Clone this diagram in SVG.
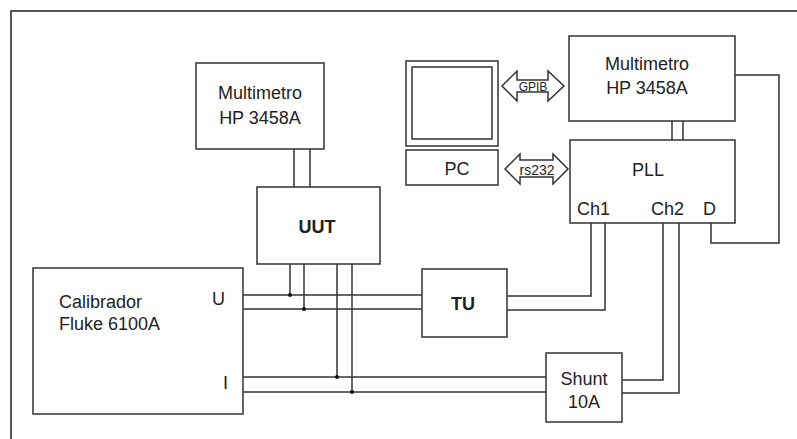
<svg xmlns="http://www.w3.org/2000/svg" width="797" height="439" viewBox="0 0 797 439">
<style>
.box{fill:#fff;stroke:#333;stroke-width:1.5}
.w{fill:none;stroke:#333;stroke-width:1.5}
.t{font-family:"Liberation Sans",Arial,sans-serif;font-size:18px;fill:#222}
.c{text-anchor:middle}
.b{font-weight:bold}
.dot{fill:#111}
</style>
<rect width="797" height="439" fill="#fff"/>
<g id="frame"><path d="M11 439 V11 H797" fill="none" stroke="#555" stroke-width="2"/></g>
<g id="connectors">
  <path class="w" d="M294 149 V187 M310 149 V187"/>
  <path class="w" d="M672 121 V140 M683 121 V140"/>
  <path class="w" d="M243 295 H422 M243 309 H422"/>
  <path class="w" d="M243 377 H546 M243 392 H546"/>
  <path class="w" d="M290 264 V295 M304 264 V309 M337 264 V377 M352 264 V392"/>
  <path class="w" d="M507 296 H591 V223 M507 310 H605 V223"/>
  <path class="w" d="M622 380 H663 V223 M622 393 H679 V223"/>
  <path class="w" d="M711 223 V243 H779 V75 H735"/>
  <circle class="dot" cx="290" cy="295" r="2"/>
  <circle class="dot" cx="304" cy="309" r="2"/>
  <circle class="dot" cx="337" cy="377" r="2"/>
  <circle class="dot" cx="352" cy="392" r="2"/>
  <g id="gpib">
    <polygon class="box" points="502,86 517,71 517,80 548,80 548,71 564,86 548,101 548,92 517,92 517,101"/>
    <text class="t c" x="533" y="91" style="font-size:12px">GPIB</text>
  </g>
  <g id="rs232">
    <polygon class="box" points="505,169 520,154 520,160 553,160 553,154 568,169 553,184 553,177 520,177 520,184"/>
    <text class="t c" x="537" y="175" style="font-size:14px">rs232</text>
  </g>
</g>
<g id="multimetro1">
  <rect class="box" x="196" y="63" width="128" height="86"/>
  <text class="t c" x="260" y="99">Multimetro</text>
  <text class="t c" x="260" y="124">HP 3458A</text>
</g>
<g id="uut">
  <rect class="box" x="257" y="187" width="123" height="77"/>
  <text class="t c b" x="317" y="233">UUT</text>
</g>
<g id="calibrador">
  <rect class="box" x="33" y="268" width="210" height="146"/>
  <text class="t" x="59" y="308">Calibrador</text>
  <text class="t" x="59" y="330">Fluke 6100A</text>
  <text class="t" x="212" y="305">U</text>
  <text class="t" x="223" y="389">I</text>
</g>
<g id="tu">
  <rect class="box" x="422" y="269" width="85" height="68"/>
  <text class="t c b" x="463" y="310">TU</text>
</g>
<g id="shunt">
  <rect class="box" x="546" y="353" width="76" height="69"/>
  <text class="t c" x="584" y="385">Shunt</text>
  <text class="t c" x="584" y="408">10A</text>
</g>
<g id="multimetro2">
  <rect class="box" x="569" y="36" width="166" height="85"/>
  <text class="t c" x="647" y="70">Multimetro</text>
  <text class="t c" x="647" y="94">HP 3458A</text>
</g>
<g id="pll">
  <rect class="box" x="570" y="140" width="165" height="83"/>
  <text class="t c" x="648" y="176">PLL</text>
  <text class="t" x="577" y="215">Ch1</text>
  <text class="t" x="651" y="215">Ch2</text>
  <text class="t" x="703" y="215">D</text>
</g>
<g id="pc">
  <rect class="box" x="406" y="61" width="92" height="85"/>
  <rect class="box" x="412" y="67" width="80" height="72"/>
  <rect class="box" x="406" y="150" width="92" height="35"/>
  <text class="t c" x="457" y="175">PC</text>
</g>
</svg>
